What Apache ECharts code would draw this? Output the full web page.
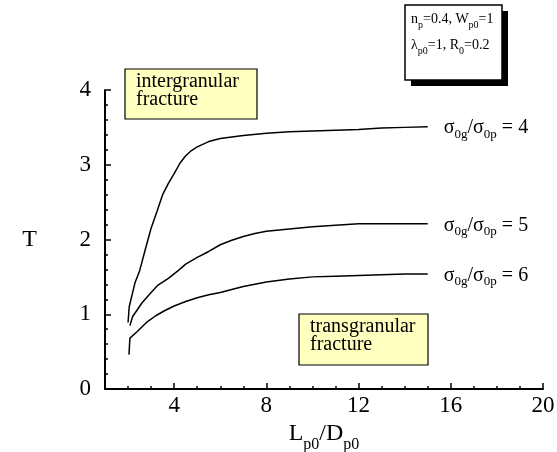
<!DOCTYPE html>
<html>
<head>
<meta charset="utf-8">
<script src="https://cdn.jsdelivr.net/npm/echarts@6/dist/echarts.min.js"></script>
<style>
  html, body { margin: 0; background: #fff; }
  #chart { width: 557px; height: 452px; }
</style>
</head>
<body>
<div id="chart"></div>
<script>
// T versus Lp0/Dp0, one curve per sigma ratio
const ratios = [4, 5, 6];

const x4 = [2.0, 2.05, 2.3, 2.5, 2.75, 3.0, 3.25, 3.5, 3.75, 4.0, 4.25, 4.5, 4.75, 5.0, 5.5, 6, 7, 8, 9, 10, 11, 12, 13, 14, 15];
const t4 = [0.89, 1.10, 1.42, 1.58, 1.87, 2.15, 2.37, 2.60, 2.75, 2.88, 3.02, 3.12, 3.19, 3.24, 3.31, 3.35, 3.39, 3.42, 3.44, 3.45, 3.46, 3.47, 3.49, 3.50, 3.51];

const x5 = [2.08, 2.2, 2.6, 3.0, 3.3, 3.75, 4.2, 4.5, 5.0, 5.5, 6.0, 6.5, 7, 7.5, 8, 9, 10, 11, 12, 13, 14, 15];
const t5 = [0.85, 0.97, 1.15, 1.29, 1.39, 1.48, 1.59, 1.67, 1.76, 1.84, 1.93, 1.99, 2.04, 2.08, 2.11, 2.14, 2.17, 2.19, 2.21, 2.21, 2.21, 2.21];

const x6 = [2.04, 2.08, 2.4, 2.8, 3.2, 3.6, 4.0, 4.5, 5.0, 5.5, 6.0, 6.5, 7, 8, 9, 10, 11, 12, 13, 14, 15];
const t6 = [0.46, 0.68, 0.77, 0.89, 0.98, 1.05, 1.11, 1.17, 1.22, 1.26, 1.29, 1.33, 1.37, 1.43, 1.47, 1.50, 1.51, 1.52, 1.53, 1.54, 1.54];

const xTicks = [2, 3, 4, 5, 6, 7, 8, 9, 10, 11, 12, 13, 14, 15, 16, 17, 18, 19, 20];
const xLabels = [4, 8, 12, 16, 20];

const serif = 'Liberation Serif';

function zip(xs, ys) {
    return xs.map((v, i) => [v, ys[i]]);
}

let myChart = echarts.init(document.getElementById('chart'));

// main text + lowered subscript
const nameRich = {
    m: {fontFamily: serif, fontSize: 24, color: '#000', verticalAlign: 'top'},
    s: {fontFamily: serif, fontSize: 16, color: '#000', verticalAlign: 'top', padding: [15, 0, 0, 0]}
};
const curveRich = {
    m: {fontFamily: serif, fontSize: 20, color: '#000', verticalAlign: 'top'},
    s: {fontFamily: serif, fontSize: 13, color: '#000', verticalAlign: 'top', padding: [10, 0, 0, 0]}
};
const boxRich = {
    m: {fontFamily: serif, fontSize: 14, lineHeight: 26, color: '#000', verticalAlign: 'top'},
    s: {fontFamily: serif, fontSize: 10, color: '#000', verticalAlign: 'top', padding: [8, 0, 0, 0]}
};

const curves = [zip(x4, t4), zip(x5, t5), zip(x6, t6)];

let option = {
    animation: false,
    grid: {left: 105, right: 14, top: 90, bottom: 63, outerBoundsMode: 'none'},
    xAxis: [
        {
            type: 'value',
            min: 1,
            max: 20,
            position: 'bottom',
            name: '{m|L}{s|p0}{m|/D}{s|p0}',
            nameLocation: 'middle',
            nameGap: 21,
            nameTextStyle: {rich: nameRich},
            axisLine: {lineStyle: {color: '#000', width: 2}},
            axisTick: {inside: true, length: 3, customValues: xTicks, lineStyle: {color: '#000', width: 1.5}},
            axisLabel: {customValues: xLabels, fontFamily: serif, fontSize: 23, color: '#000', margin: 5},
            splitLine: {show: false}
        },
        {
            // longer ticks for the labelled values
            type: 'value',
            min: 1,
            max: 20,
            position: 'bottom',
            axisLine: {show: false},
            axisTick: {inside: true, length: 6, customValues: xLabels, lineStyle: {color: '#000', width: 1.5}},
            axisLabel: {show: false},
            splitLine: {show: false}
        }
    ],
    yAxis: {
        type: 'value',
        min: 0,
        max: 4,
        interval: 1,
        name: 'T',
        nameLocation: 'middle',
        nameRotate: 0,
        nameGap: 68,
        nameTextStyle: {fontFamily: serif, fontSize: 24, color: '#000'},
        axisLine: {show: true, lineStyle: {color: '#000', width: 2}},
        axisTick: {inside: true, length: 6, lineStyle: {color: '#000', width: 1.5}},
        minorTick: {show: true, splitNumber: 5, length: 3, lineStyle: {color: '#000', width: 1.5}},
        axisLabel: {fontFamily: serif, fontSize: 23, color: '#000', margin: 14},
        splitLine: {show: false}
    },
    series: curves.map((d, i) => ({
        type: 'line',
        data: d,
        showSymbol: false,
        lineStyle: {color: '#000', width: 1.5},
        endLabel: {
            show: true,
            distance: 16,
            offset: [0, 3],
            formatter: () => '{m|σ}{s|0g}{m|/σ}{s|0p}{m| = ' + ratios[i] + '}',
            rich: curveRich
        }
    })),
    graphic: [
        // parameter box with drop shadow
        {type: 'rect', shape: {x: 411, y: 11, width: 97, height: 75}, style: {fill: '#000'}},
        {type: 'rect', shape: {x: 405, y: 5, width: 97, height: 75}, style: {fill: '#fff', stroke: '#000', lineWidth: 1.5}},
        {
            type: 'text', x: 411, y: 12,
            style: {
                text: '{m|n}{s|p}{m|=0.4, W}{s|p0}{m|=1}\n{m|λ}{s|p0}{m|=1, R}{s|0}{m|=0.2}',
                rich: boxRich
            }
        },
        // region labels
        {type: 'rect', shape: {x: 125, y: 69, width: 132, height: 50}, style: {fill: '#ffffc0', stroke: '#000', lineWidth: 1.2}},
        {
            type: 'text', x: 136, y: 73,
            style: {text: 'intergranular\nfracture', fontFamily: serif, fontSize: 20, lineHeight: 18, fill: '#000'}
        },
        {type: 'rect', shape: {x: 299, y: 314, width: 129, height: 51}, style: {fill: '#ffffc0', stroke: '#000', lineWidth: 1.2}},
        {
            type: 'text', x: 310, y: 318,
            style: {text: 'transgranular\nfracture', fontFamily: serif, fontSize: 20, lineHeight: 18, fill: '#000'}
        }
    ]
};

myChart.setOption(option);
</script>
</body>
</html>
